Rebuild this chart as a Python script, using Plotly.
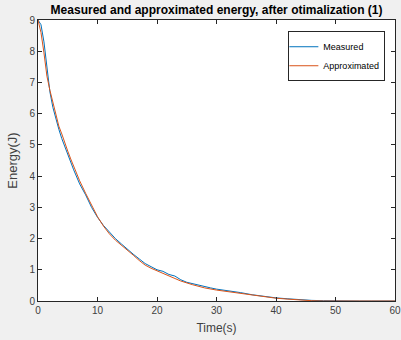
import plotly.graph_objects as go

# Data
t_meas = [0, 0.5, 1, 1.5, 2, 2.5, 3, 3.5, 4, 4.5, 5, 5.5, 6, 7, 8, 9, 10, 11, 12, 13, 14,
          15, 16, 17, 18, 19, 20, 21, 22, 23, 24, 25, 26, 27, 28, 29, 30, 32, 34, 36, 38,
          40, 42, 44, 46, 48, 50, 52, 54, 56, 58, 60]
e_meas = [9.0, 8.85, 8.3, 7.5, 6.7, 6.2, 5.8, 5.5, 5.2, 4.95, 4.7, 4.4, 4.2, 3.75, 3.4,
          3.0, 2.68, 2.42, 2.2, 2.0, 1.83, 1.65, 1.5, 1.35, 1.2, 1.1, 1.0, 0.95, 0.85, 0.8,
          0.68, 0.6, 0.55, 0.5, 0.46, 0.42, 0.38, 0.33, 0.27, 0.2, 0.14, 0.1, 0.07, 0.04,
          0.02, 0.01, 0.0, 0.0, 0.0, 0.0, 0.0, 0.0]

t_appr = [0, 0.5, 1, 1.5, 2, 2.5, 3, 3.5, 4, 4.5, 5, 5.5, 6, 7, 8, 9, 10, 11, 12, 13, 14,
          15, 16, 17, 18, 19, 20, 22, 24, 26, 28, 30, 32, 34, 36, 38, 40, 42, 44, 46, 48,
          50, 55, 60]
e_appr = [9.0, 8.6, 7.95, 7.2, 6.75, 6.35, 5.95, 5.6, 5.35, 5.05, 4.8, 4.55, 4.3, 3.85,
          3.45, 3.05, 2.7, 2.4, 2.15, 1.95, 1.8, 1.62, 1.47, 1.3, 1.15, 1.05, 0.97, 0.8,
          0.64, 0.52, 0.42, 0.35, 0.3, 0.25, 0.19, 0.13, 0.09, 0.06, 0.03, 0.01, 0.0,
          0.0, 0.0, 0.0]

x_ticks = [0, 10, 20, 30, 40, 50, 60]
y_ticks = [0, 1, 2, 3, 4, 5, 6, 7, 8, 9]

BLUE = "#0072BD"
ORANGE = "#D95319"
AX = "#262626"
TICK_TXT = "#404040"

fig = go.Figure()
fig.add_trace(go.Scatter(x=t_meas, y=e_meas, mode="lines", name="Measured",
                         line=dict(color=BLUE, width=1)))
fig.add_trace(go.Scatter(x=t_appr, y=e_appr, mode="lines", name="Approximated",
                         line=dict(color=ORANGE, width=1)))

axis_common = dict(showgrid=False, zeroline=False, showline=True, linecolor=AX,
                   linewidth=1, mirror="ticks", ticks="inside", ticklen=4,
                   tickcolor=AX, automargin=False,
                   tickfont=dict(size=10, color=TICK_TXT, family="Liberation Sans, Arial"))

fig.update_layout(
    width=401, height=340,
    margin=dict(l=38, r=6, t=20, b=39),
    paper_bgcolor="#f0f0f0", plot_bgcolor="white",
    font=dict(family="Liberation Sans, Arial", color=AX),
    title=dict(text="<b>Measured and approximated energy, after otimalization (1)</b>",
               x=0.54, xanchor="center", y=0.972, yanchor="middle",
               font=dict(size=12, color="black")),
    xaxis=dict(range=[0, 60], tickvals=x_ticks, **axis_common,
               title=dict(text="Time(s)", font=dict(size=12, color=TICK_TXT), standoff=8)),
    yaxis=dict(range=[0, 9], tickvals=y_ticks, **axis_common,
               title=dict(text="Energy(J)", font=dict(size=13, color=TICK_TXT), standoff=8)),
    legend=dict(x=0.973, y=0.96, xanchor="right", yanchor="top",
                bgcolor="white", bordercolor=AX, borderwidth=1,
                font=dict(size=9, color="black"), tracegroupgap=0,
                itemwidth=30, indentation=-6),
    showlegend=True,
)

fig.write_html("out.html")
